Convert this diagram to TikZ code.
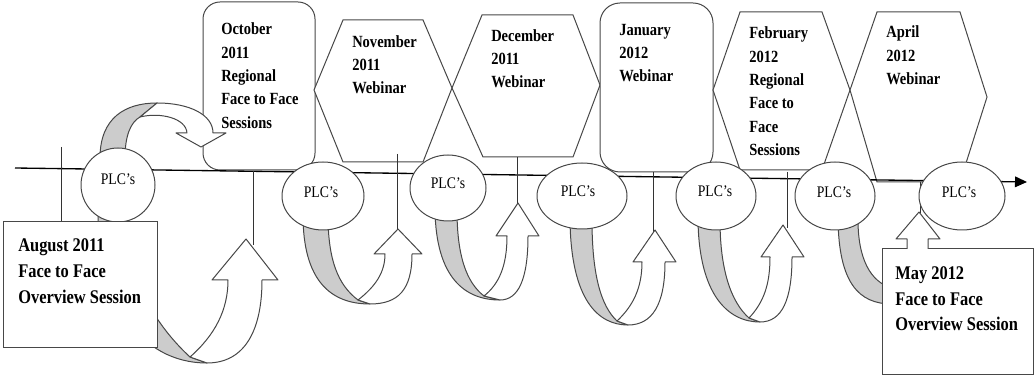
\documentclass[tikz,border=0pt]{standalone}
\usepackage{fontspec}
\setmainfont{Liberation Serif}
\newfontfamily\lbl[FakeStretch=0.85]{Liberation Serif}
\usetikzlibrary{arrows.meta,shapes.geometric}
\begin{document}
\begin{tikzpicture}[x=0.75pt,y=-0.75pt,
  ol/.style={draw=black!72,line width=0.75pt},
  boxsh/.style={ol,fill=white},
  gband/.style={ol,fill=black!20,line join=round},
  wband/.style={ol,fill=white,line join=round},
  tl/.style={draw=black,line width=1pt},
  stem/.style={draw=black!80,line width=0.75pt},
  plcell/.style={ellipse,ol,fill=white,inner sep=0pt,outer sep=0pt},
  plc/.style={font=\lbl\fontsize{12.1}{14}\selectfont,inner sep=0pt},
  btxt/.style={font=\lbl\bfseries\fontsize{12.8}{17.5}\selectfont,align=left,anchor=north west,inner sep=0pt},
  bigtxt/.style={font=\lbl\bfseries\fontsize{14.5}{19.35}\selectfont,align=left,anchor=north west,inner sep=0pt}
]
\useasboundingbox (0,0) rectangle (1034,377);

% --- event boxes (top row)
\path[boxsh,rounded corners=12.75pt] (203,2) rectangle (315,170);
\path[boxsh] (314,90) -- (343,20) -- (423,20) -- (452,88) -- (423,162) -- (343,162) -- cycle;
\path[boxsh] (452,88) -- (482,15) -- (573,15) -- (600,85) -- (573,157) -- (483,157) -- cycle;
\path[boxsh,rounded corners=15pt] (600,3) rectangle (713,172);
\path[boxsh] (713,90) -- (740,12) -- (822,12) -- (850,90) -- (822,170) -- (740,170) -- cycle;
\path[boxsh] (850,90) -- (877,12) -- (960,12) -- (987,97) -- (960,182) -- (877,182) -- cycle;

% --- timeline
\coordinate (tlA) at (15,168);
\coordinate (tlB) at (1027,182);
\draw[tl,-{Triangle[length=9pt,width=8pt]}] (tlA) -- (tlB);

% --- stems
\coordinate (s1a) at (61,147);  \coordinate (s1b) at (61,222);
\coordinate (s2a) at (253,171); \coordinate (s2b) at (253,245);
\coordinate (s3a) at (397,154); \coordinate (s3b) at (397,235);
\coordinate (s4a) at (517,157); \coordinate (s4b) at (517,210);
\coordinate (s5a) at (653,172); \coordinate (s5b) at (653,235);
\coordinate (s6a) at (787,172); \coordinate (s6b) at (787,228);
\coordinate (s7a) at (920,182); \coordinate (s7b) at (920,213);
\foreach \i in {1,...,7} {\draw[stem] (s\i a) -- (s\i b);}

% --- U-turn arrows
% A
\path[gband] (98,212) .. controls (98,300) and (140,363) .. (207,363) -- (190,357) .. controls (150,320) and (125,270) .. (125,212) -- cycle;
\path[wband] (190,357) .. controls (215,335) and (228,310) .. (228,280) -- (212,280) -- (246,239) -- (278,280) -- (262,280) .. controls (262,330) and (245,363) .. (207,363) -- cycle;
% B
\path[gband] (303,215) .. controls (303,280) and (330,304) .. (370,304) -- (358,300) .. controls (338,285) and (328,260) .. (328,215) -- cycle;
\path[wband] (358,300) .. controls (376,286) and (385,272) .. (385,254) -- (374,254) -- (398,229) -- (422,254) -- (412,254) .. controls (412,290) and (398,304) .. (370,304) -- cycle;
% C
\path[gband] (435,210) .. controls (436,278) and (465,300) .. (500,300) -- (484,296) .. controls (466,282) and (457,255) .. (457,210) -- cycle;
\path[wband] (484,296) .. controls (499,284) and (507,266) .. (507,236) -- (496,236) -- (518,203) -- (539,236) -- (528,236) .. controls (528,280) and (518,300) .. (500,300) -- cycle;
% D
\path[gband] (570,220) .. controls (571,300) and (598,325) .. (628,325) -- (617,321) .. controls (601,306) and (592,275) .. (592,220) -- cycle;
\path[wband] (617,321) .. controls (633,306) and (642,288) .. (642,262) -- (633,262) -- (655,230) -- (676,262) -- (665,262) .. controls (665,305) and (652,325) .. (628,325) -- cycle;
% E
\path[gband] (698,220) .. controls (699,295) and (728,322) .. (760,322) -- (749,318) .. controls (731,302) and (720,270) .. (720,220) -- cycle;
\path[wband] (749,318) .. controls (764,302) and (770,284) .. (770,257) -- (761,257) -- (783,225) -- (804,257) -- (792,257) .. controls (792,300) and (782,322) .. (760,322) -- cycle;
% F
\path[gband] (838,220) .. controls (839,282) and (858,304) .. (892,304) -- (892,288) .. controls (870,282) and (858,258) .. (858,220) -- cycle;
% G (top)
\path[gband] (100,158) .. controls (100,118) and (125,103) .. (157,103) -- (140,117) .. controls (131,122) and (125,135) .. (125,158) -- cycle;
\path[wband] (140,117) .. controls (160,112) and (186,118) .. (187,133) -- (176,133) -- (201,147) -- (226,133) -- (213,133) .. controls (213,115) and (190,103) .. (157,103) -- cycle;

% --- PLC ellipses
\node[plcell,minimum width=55.5pt,minimum height=55.5pt] (e1) at (118,185) {};
\node[plcell,minimum width=61.5pt,minimum height=51pt] (e2) at (323,196) {};
\node[plcell,minimum width=57pt,minimum height=49.5pt] (e3) at (448,188) {};
\node[plcell,minimum width=67.5pt,minimum height=49.5pt] (e4) at (582,196) {};
\node[plcell,minimum width=60pt,minimum height=51pt] (e5) at (716,196) {};
\node[plcell,minimum width=60pt,minimum height=51pt] (e6) at (835,196) {};
\node[plcell,minimum width=64.5pt,minimum height=51pt] (e7) at (962,196) {};
\node[plc] (t1) at (118,179) {PLC’s};
\node[plc] (t2) at (321,192) {PLC’s};
\node[plc] (t3) at (448,183) {PLC’s};
\node[plc] (t4) at (578,191) {PLC’s};
\node[plc] (t5) at (715,191) {PLC’s};
\node[plc] (t6) at (834,192) {PLC’s};
\node[plc] (t7) at (959,192) {PLC’s};

% --- bottom boxes
\path[boxsh] (3,222) rectangle (157,347);
\path[boxsh] (882,249) rectangle (1033,374);
\path[wband] (907,249) -- (907,239) -- (896,239) -- (919,212) -- (940,239) -- (928,239) -- (928,249);

% --- texts
\node[bigtxt] (aug) at (18,238.6) {August 2011\\Face to Face\\Overview Session};
\node[bigtxt] (may) at (895,266.2) {May 2012\\Face to Face\\Overview Session};
\node[btxt] (oct) at (221,22.7) {October\\2011\\Regional\\Face to Face\\Sessions};
\node[btxt] (nov) at (352,35.1) {November\\2011\\Webinar};
\node[btxt] (dec) at (491,29.1) {December\\2011\\Webinar};
\node[btxt] (jan) at (619,23.7) {January\\2012\\Webinar};
\node[btxt] (feb) at (749,26.7) {February\\2012\\Regional\\Face to\\Face\\Sessions};
\node[btxt] (apr) at (886,25.7) {April\\2012\\Webinar};
\end{tikzpicture}
\end{document}
